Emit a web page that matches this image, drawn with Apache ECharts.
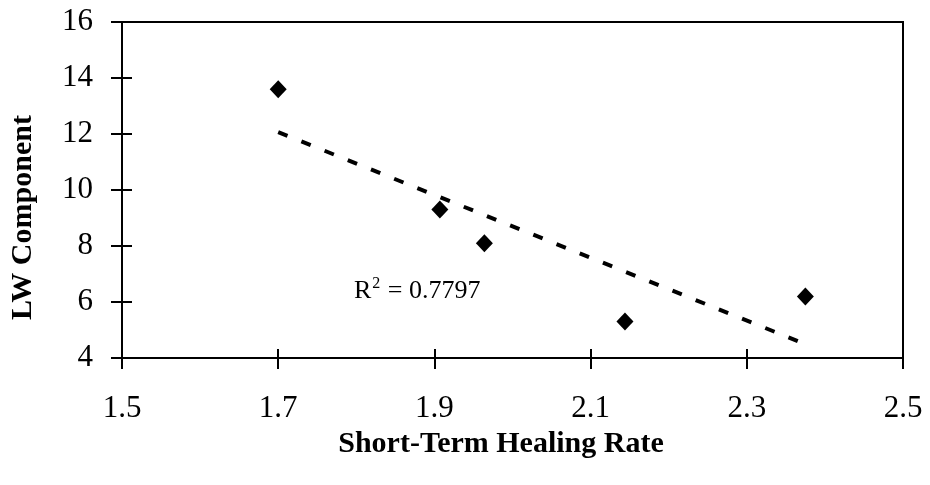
<!DOCTYPE html>
<html>
<head>
<meta charset="utf-8">
<script src="https://cdn.jsdelivr.net/npm/echarts@6/dist/echarts.min.js"></script>
<style>
  html, body { margin: 0; padding: 0; background: #fff; }
  #chart { width: 930px; height: 485px; }
</style>
</head>
<body>
<div id="chart"></div>
<script>
// Healing rate vs. LW component measurements
const healingRate = [1.70, 1.907, 1.964, 2.144, 2.375];
const lwComponent = [13.6, 9.3, 8.1, 5.3, 6.2];
const rSquaredText = '0.7797';
const xTicks = { min: 1.5, max: 2.5, step: 0.2 };
const yTicks = { min: 4, max: 16, step: 2 };

// least-squares linear trend over the measured points
function linearFit(xs, ys) {
  const n = xs.length;
  const mx = xs.reduce((a, b) => a + b, 0) / n;
  const my = ys.reduce((a, b) => a + b, 0) / n;
  let sxy = 0, sxx = 0;
  for (let i = 0; i < n; i++) {
    sxy += (xs[i] - mx) * (ys[i] - my);
    sxx += (xs[i] - mx) * (xs[i] - mx);
  }
  const slope = sxy / sxx;
  return { slope, intercept: my - slope * mx };
}
const fit = linearFit(healingRate, lwComponent);
const xLo = Math.min(...healingRate), xHi = Math.max(...healingRate);
const trend = [
  [xLo, fit.intercept + fit.slope * xLo],
  [xHi, fit.intercept + fit.slope * xHi]
];

const points = healingRate.map((x, i) => [x, lwComponent[i]]);
const FONT = '"Liberation Serif", "Times New Roman", serif';
const gridRect = { left: 122, top: 22, right: 27, bottom: 127 };

// second, label-less axis pair: draws the inner half of each crossing tick
function innerAxis(range, len) {
  return {
    type: 'value', gridIndex: 1,
    min: range.min, max: range.max, interval: range.step,
    axisLine: { show: true, onZero: false, lineStyle: { color: '#000', width: 2 } },
    axisTick: { show: true, inside: true, length: len, lineStyle: { color: '#000', width: 2 } },
    axisLabel: { show: false },
    splitLine: { show: false }
  };
}

const chart = echarts.init(document.getElementById('chart'), null, { renderer: 'canvas' });
chart.setOption({
  animation: false,
  backgroundColor: '#fff',
  grid: [
    Object.assign({ show: true, borderColor: '#000', borderWidth: 2, backgroundColor: 'transparent' }, gridRect),
    Object.assign({ show: false }, gridRect)
  ],
  xAxis: [
    {
      type: 'value', gridIndex: 0,
      min: xTicks.min, max: xTicks.max, interval: xTicks.step,
      name: 'Short-Term Healing Rate',
      nameLocation: 'middle', nameGap: 64,
      nameTextStyle: { fontFamily: FONT, fontWeight: 'bold', fontSize: 30, color: '#000', padding: [0, 23, 0, 0] },
      axisLine: { onZero: false, lineStyle: { color: '#000', width: 2 } },
      axisTick: { show: true, inside: false, length: 11, lineStyle: { color: '#000', width: 2 } },
      axisLabel: { margin: 35, fontFamily: FONT, fontSize: 31, color: '#000', formatter: v => v.toFixed(1) },
      splitLine: { show: false }
    },
    innerAxis(xTicks, 9)
  ],
  yAxis: [
    {
      type: 'value', gridIndex: 0,
      min: yTicks.min, max: yTicks.max, interval: yTicks.step,
      name: 'LW Component',
      nameLocation: 'middle', nameGap: 84, nameRotate: 90,
      nameTextStyle: { fontFamily: FONT, fontWeight: 'bold', fontSize: 30, color: '#000', padding: [0, 55, 0, 0] },
      axisLine: { onZero: false, lineStyle: { color: '#000', width: 2 } },
      axisTick: { show: true, inside: false, length: 11, lineStyle: { color: '#000', width: 2 } },
      axisLabel: { margin: 29, fontFamily: FONT, fontSize: 31, color: '#000' },
      splitLine: { show: false }
    },
    innerAxis(yTicks, 10)
  ],
  series: [
    {
      // empty series bound to the tick-only axes
      type: 'scatter',
      xAxisIndex: 1, yAxisIndex: 1,
      data: [],
      silent: true
    },
    {
      type: 'line',
      xAxisIndex: 0, yAxisIndex: 0,
      data: trend,
      showSymbol: false,
      silent: true,
      lineStyle: { color: '#000', width: 4, type: [10, 15], cap: 'butt' },
      z: 2
    },
    {
      type: 'scatter',
      xAxisIndex: 0, yAxisIndex: 0,
      data: points,
      symbol: 'diamond',
      symbolSize: [17, 18],
      itemStyle: { color: '#000', opacity: 1 },
      z: 3
    }
  ],
  graphic: [
    {
      type: 'text',
      left: 354,
      top: 276,
      silent: true,
      style: {
        text: 'R{sup|2} = ' + rSquaredText,
        fill: '#000',
        font: '26px ' + FONT,
        rich: {
          sup: { fontFamily: FONT, fontSize: 16, verticalAlign: 'top', padding: [0, 1, 14, 1], fill: '#000' }
        }
      }
    }
  ]
});
</script>
</body>
</html>
